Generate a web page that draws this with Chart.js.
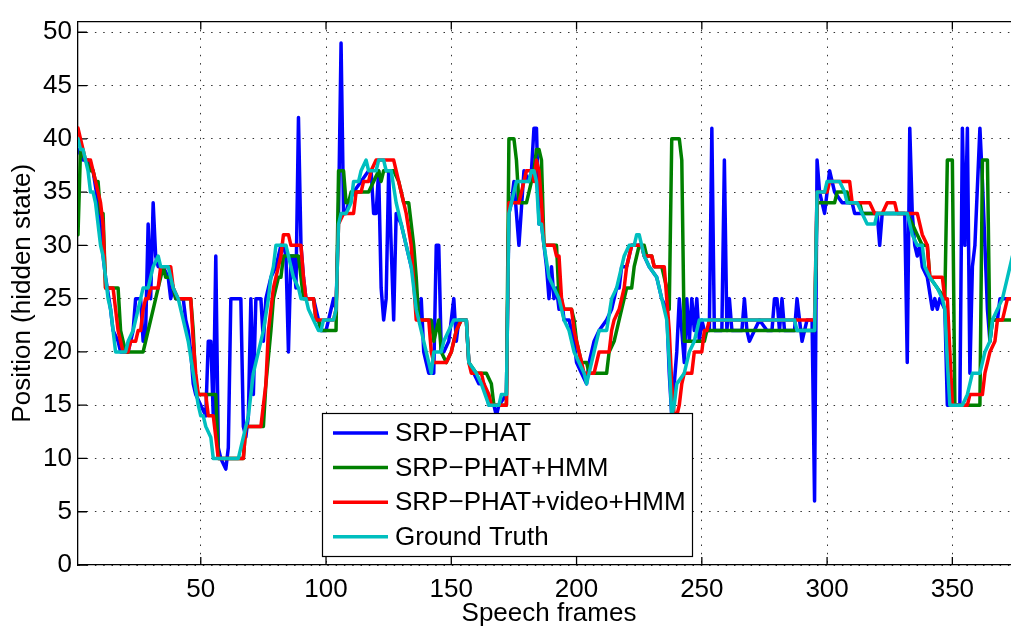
<!DOCTYPE html>
<html>
<head>
<meta charset="utf-8">
<script src="https://cdn.jsdelivr.net/npm/chart.js@4.4.1/dist/chart.umd.min.js"></script>
<style>
  html, body { margin: 0; padding: 0; background: #fff; overflow: hidden; width: 1011px; height: 630px; }
  canvas { display: block; }
</style>
</head>
<body>
<canvas id="track" width="1020" height="630"></canvas>
<script>
// Tick values of both axes
const xTickValues = [50, 100, 150, 200, 250, 300, 350];
const yTickValues = [0, 5, 10, 15, 20, 25, 30, 35, 40, 45, 50];

// Series names and colours (legend order)
const seriesNames = ['SRP\u2212PHAT', 'SRP\u2212PHAT+HMM', 'SRP\u2212PHAT+video+HMM', 'Ground Truth'];
const seriesColors = ['#0000ff', '#008000', '#ff0000', '#00bfbf'];

// [speech frame, position] vertices of each track
const srpPhat = [
  [1,39],[3,38],[5,38],[7,37],[9,34],[11,29],[12,27],[14,24],[15,22],[17,21],[18,20],[21,20],[23,22],[24,25],[26,25],
  [27,21],[28,22],[29,32],[30,25],[31,34],[32,29],[33,28],[35,28],[37,27],[38,25],[39,26],[40,25],[43,25],[44,23],
  [45,22],[46,20],[47,17],[48,16],[50,15],[52,14],[53,21],[54,21],[55,14],[56,29],[57,11],[58,10],[60,9],[61,11],
  [62,25],[66,25],[67,13],[68,12],[69,14],[70,25],[71,16],[72,25],[74,25],[75,21],[76,25],[78,27],[80,28],[82,30],
  [83,30],[84,29],[85,20],[86,29],[87,29],[88,26],[89,42],[90,30],[91,27],[92,25],[95,25],[96,24],[97,23],[98,22],
  [100,22],[101,23],[102,24],[103,25],[104,24],[105,33],[106,49],[107,33],[108,33],[109,34],[111,35],[114,36],
  [117,37],[118,37],[119,33],[120,33],[121,37],[122,26],[123,23],[124,25],[125,37],[126,30],[127,23],[128,33],
  [130,32],[132,30],[134,28],[135,27],[136,25],[137,23],[138,25],[139,20],[140,19],[141,18],[143,18],[144,30],
  [145,30],[146,20],[147,20],[149,21],[150,23],[151,25],[152,21],[153,23],[156,23],[157,19],[159,18],[161,17],
  [163,17],[165,15],[167,15],[168,14],[169,15],[172,16],[173,33],[174,34],[175,36],[177,30],[179,37],[181,36],
  [182,37],[183,41],[184,41],[185,32],[186,32],[187,30],[188,28],[189,25],[190,28],[191,25],[192,26],[193,24],
  [194,25],[195,23],[197,23],[199,21],[200,19],[202,18],[204,17],[205,19],[207,21],[209,22],[212,23],[214,24],
  [216,26],[217,26],[218,28],[220,28],[222,30],[226,30],[227,29],[229,28],[232,27],[234,25],[236,24],[237,18],
  [238,14],[239,17],[240,20],[241,25],[242,22],[243,19],[244,25],[245,21],[246,25],[247,22],[248,25],[249,21],
  [250,23],[251,22],[253,22],[254,41],[255,22],[256,22],[258,22],[259,38],[260,22],[261,25],[262,22],[266,22],
  [267,25],[268,22],[269,21],[271,22],[273,23],[276,22],[278,22],[279,25],[280,25],[281,22],[282,25],[283,22],
  [287,22],[288,25],[289,23],[290,21],[292,23],[294,23],[295,6],[296,38],[297,35],[299,33],[301,37],[302,36],
  [303,35],[306,34],[310,34],[311,33],[320,33],[321,30],[322,33],[331,33],[332,19],[333,41],[334,33],[335,30],
  [336,29],[337,30],[338,28],[340,27],[342,24],[343,25],[344,24],[345,25],[347,24],[348,15],[353,15],[354,41],
  [355,30],[356,41],[357,18],[358,28],[359,30],[361,41],[362,36],[363,30],[364,24],[365,21],[366,23],[368,23],
  [369,25],[377,25]
];

const srpPhatHmm = [
  [1,31],[2,39],[4,38],[6,37],[7,37],[8,36],[9,36],[10,33],[11,33],[12,26],[17,26],[18,22],[19,21],[20,20],[27,20],
  [28,21],[29,22],[31,24],[33,26],[34,27],[35,28],[36,27],[38,27],[39,26],[40,25],[46,25],[47,22],[48,17],[49,16],
  [56,16],[57,10],[67,10],[68,13],[75,13],[76,17],[78,22],[79,25],[81,27],[82,27],[83,29],[89,29],[91,25],[95,25],
  [96,23],[97,23],[98,22],[104,22],[105,37],[107,37],[108,34],[109,34],[110,35],[117,35],[119,36],[121,37],
  [122,36],[123,37],[127,37],[129,36],[131,34],[133,34],[134,32],[135,30],[136,27],[137,23],[142,23],[143,21],
  [145,23],[146,20],[148,19],[150,20],[151,21],[152,22],[154,23],[156,23],[157,19],[160,18],[164,18],[166,17],
  [167,15],[172,15],[173,40],[175,40],[176,38],[177,34],[180,34],[181,35],[182,36],[183,37],[184,39],[185,39],
  [186,38],[187,30],[192,30],[193,25],[194,24],[198,24],[199,23],[200,21],[201,20],[202,19],[204,19],[205,18],
  [212,18],[213,20],[215,21],[217,23],[219,25],[220,26],[222,26],[223,28],[224,29],[225,30],[227,30],[228,29],
  [230,29],[231,28],[234,28],[235,27],[236,26],[237,24],[238,40],[241,40],[242,38],[243,21],[251,21],[252,22],
  [295,22],[296,34],[303,34],[304,35],[308,35],[309,34],[313,34],[314,33],[332,33],[334,32],[336,31],[338,30],
  [340,30],[341,27],[344,26],[347,25],[348,38],[350,38],[351,15],[361,15],[362,38],[364,38],[365,21],[366,23],
  [377,23]
];

const srpPhatVideoHmm = [
  [1,41],[2,40],[3,39],[4,38],[6,38],[7,37],[8,36],[9,35],[10,34],[11,32],[12,26],[15,26],[16,24],[17,22],[18,21],
  [19,20],[21,20],[22,21],[24,21],[25,22],[26,22],[27,24],[28,25],[29,25],[30,26],[33,26],[34,28],[38,28],[39,26],
  [41,25],[46,25],[47,21],[48,18],[49,16],[52,16],[53,14],[55,14],[57,10],[67,10],[68,13],[74,13],[75,15],[76,17],
  [77,22],[79,26],[81,28],[82,29],[83,31],[85,31],[86,30],[90,30],[91,27],[92,25],[95,25],[96,23],[103,23],[104,24],
  [105,32],[107,33],[111,33],[112,35],[114,35],[115,36],[117,36],[118,37],[120,38],[127,38],[129,36],[132,33],
  [134,30],[136,23],[141,23],[142,20],[143,19],[148,19],[150,20],[151,21],[152,22],[154,23],[156,23],[157,19],
  [158,18],[162,18],[163,17],[165,16],[166,15],[172,15],[173,34],[177,34],[178,35],[180,37],[182,37],[183,36],
  [184,38],[185,37],[186,34],[187,30],[191,30],[192,29],[193,29],[194,25],[195,24],[198,24],[199,22],[201,20],
  [203,18],[207,18],[209,20],[213,20],[214,22],[215,23],[217,24],[219,26],[220,28],[221,29],[222,30],[226,30],
  [227,29],[230,29],[231,28],[235,28],[236,25],[237,22],[238,17],[239,14],[240,14],[241,15],[242,17],[243,18],
  [246,18],[247,20],[250,20],[251,22],[252,22],[253,23],[295,23],[296,35],[300,35],[301,36],[309,36],[310,34],
  [317,34],[319,33],[322,33],[324,34],[327,34],[328,33],[336,33],[338,31],[340,30],[341,27],[346,27],[347,25],
  [348,25],[350,15],[356,15],[357,16],[362,16],[363,18],[364,19],[365,20],[367,21],[368,23],[370,23],[372,25],
  [377,25]
];

const groundTruth = [
  [1,40],[2,39],[3,39],[4,38],[5,37],[6,35],[7,35],[8,34],[10,30],[11,29],[13,25],[14,24],[15,22],[16,20],[20,20],
  [21,21],[23,22],[25,24],[27,26],[29,26],[31,28],[33,29],[34,28],[37,28],[38,27],[39,26],[41,25],[43,23],[45,21],
  [47,18],[49,15],[50,14],[51,14],[52,13],[54,12],[55,10],[65,10],[67,12],[69,14],[70,16],[71,18],[73,20],[75,22],
  [77,25],[78,27],[79,28],[80,30],[84,30],[85,29],[87,27],[89,26],[90,25],[92,25],[93,24],[95,23],[97,22],[98,22],
  [99,23],[103,23],[104,24],[105,32],[106,33],[108,33],[110,34],[111,36],[113,36],[114,37],[116,38],[117,37],
  [120,37],[121,38],[123,38],[124,37],[126,37],[128,34],[131,31],[134,28],[136,24],[138,22],[140,20],[142,18],
  [143,20],[146,20],[147,21],[149,22],[151,23],[156,23],[157,19],[160,18],[162,17],[165,15],[169,15],[170,16],
  [172,16],[173,33],[174,34],[176,36],[181,36],[182,37],[183,37],[184,36],[185,32],[186,32],[187,30],[189,27],
  [191,26],[193,25],[195,23],[197,22],[199,20],[201,19],[203,18],[204,17],[205,18],[207,20],[209,22],[212,22],
  [214,25],[216,26],[218,28],[219,29],[221,30],[223,30],[224,31],[225,31],[226,30],[227,29],[229,28],[232,27],
  [234,25],[236,23],[237,19],[238,14],[239,15],[240,17],[243,18],[245,20],[247,21],[249,23],[287,23],[288,22],
  [295,22],[296,35],[299,35],[300,36],[305,36],[307,35],[308,34],[312,34],[314,33],[316,32],[319,32],[320,33],
  [332,33],[334,31],[336,30],[338,30],[339,28],[341,27],[344,26],[346,25],[347,24],[348,19],[349,15],[354,15],
  [356,16],[358,18],[361,18],[363,20],[365,21],[366,23],[368,24],[370,25],[372,27],[374,29],[377,31]
];

const FONT = '"Liberation Sans", Arial, Helvetica, sans-serif';
const FONT_SIZE = 26;
const toPoints = rows => rows.map(([f, p]) => ({ x: f, y: p }));

// Box frame on top and inward tick marks, drawn beneath the data
const axesFrame = {
  id: 'axesFrame',
  beforeDatasetsDraw(chart) {
    const { ctx, chartArea: { left, right, top, bottom }, scales: { x, y } } = chart;
    ctx.save();
    ctx.strokeStyle = '#000';
    ctx.lineWidth = 1.3;
    ctx.beginPath();
    ctx.moveTo(left, top);
    ctx.lineTo(right, top);
    for (const v of xTickValues) {
      const px = x.getPixelForValue(v);
      ctx.moveTo(px, bottom); ctx.lineTo(px, bottom - 8);
      ctx.moveTo(px, top); ctx.lineTo(px, top + 8);
    }
    for (const v of yTickValues) {
      const py = y.getPixelForValue(v);
      ctx.moveTo(left, py); ctx.lineTo(left + 9, py);
    }
    ctx.stroke();
    ctx.restore();
  }
};

// Boxed legend inside the plot
const boxLegend = {
  id: 'boxLegend',
  afterDraw(chart) {
    const ctx = chart.ctx;
    const bx = 322.5, by = 413.5, bw = 370, bh = 143;
    ctx.save();
    ctx.fillStyle = '#fff';
    ctx.fillRect(bx, by, bw, bh);
    ctx.strokeStyle = '#000';
    ctx.lineWidth = 1.2;
    ctx.strokeRect(bx, by, bw, bh);
    ctx.font = FONT_SIZE + 'px ' + FONT;
    ctx.textBaseline = 'middle';
    ctx.textAlign = 'left';
    chart.data.datasets.forEach((ds, i) => {
      const cy = 433 + i * 34.6;
      ctx.strokeStyle = ds.borderColor;
      ctx.lineWidth = 3.5;
      ctx.beginPath();
      ctx.moveTo(333, cy);
      ctx.lineTo(388, cy);
      ctx.stroke();
      ctx.fillStyle = '#000';
      ctx.fillText(ds.label, 395, cy + 1);
    });
    ctx.restore();
  }
};

const tracks = [srpPhat, srpPhatHmm, srpPhatVideoHmm, groundTruth];

new Chart(document.getElementById('track'), {
  type: 'line',
  data: {
    datasets: tracks.map((rows, i) => ({
      label: seriesNames[i],
      data: toPoints(rows),
      borderColor: seriesColors[i],
      backgroundColor: seriesColors[i],
      order: 4 - i
    }))
  },
  options: {
    responsive: false,
    animation: false,
    devicePixelRatio: 1,
    events: [],
    layout: { padding: { top: 7.6, left: 0, right: 0, bottom: 0 } },
    elements: {
      line: { borderWidth: 3.5, tension: 0, borderJoinStyle: 'round', borderCapStyle: 'round', fill: false },
      point: { radius: 0, hoverRadius: 0 }
    },
    plugins: { legend: { display: false }, tooltip: { enabled: false } },
    scales: {
      x: {
        type: 'linear',
        min: 1,
        max: 377,
        afterBuildTicks: s => { s.ticks = xTickValues.map(v => ({ value: v })); },
        afterFit: s => { s.height = 65; },
        grid: { color: 'rgba(0,0,0,0.8)', lineWidth: 1, drawTicks: false },
        border: { display: true, color: '#000', width: 1.3, dash: [1.5, 6.8] },
        ticks: { padding: 9, color: '#000', font: { family: FONT, size: FONT_SIZE }, maxRotation: 0, autoSkip: false },
        title: { display: true, text: 'Speech frames', color: '#000', font: { family: FONT, size: FONT_SIZE, lineHeight: 1.2 }, padding: { top: 0, bottom: 1 } }
      },
      y: {
        min: 0,
        max: 51,
        afterBuildTicks: s => { s.ticks = yTickValues.map(v => ({ value: v })); },
        afterFit: s => { s.width = 78; },
        grid: { color: 'rgba(0,0,0,0.8)', lineWidth: 1, drawTicks: false },
        border: { display: true, color: '#000', width: 1.3, dash: [1.5, 6.8] },
        ticks: { padding: 6, color: '#000', font: { family: FONT, size: FONT_SIZE } },
        title: { display: true, text: 'Position (hidden state)', color: '#000', font: { family: FONT, size: FONT_SIZE, lineHeight: 1.2 }, padding: { top: 7, bottom: 0 } }
      }
    }
  },
  plugins: [axesFrame, boxLegend]
});
</script>
</body>
</html>
